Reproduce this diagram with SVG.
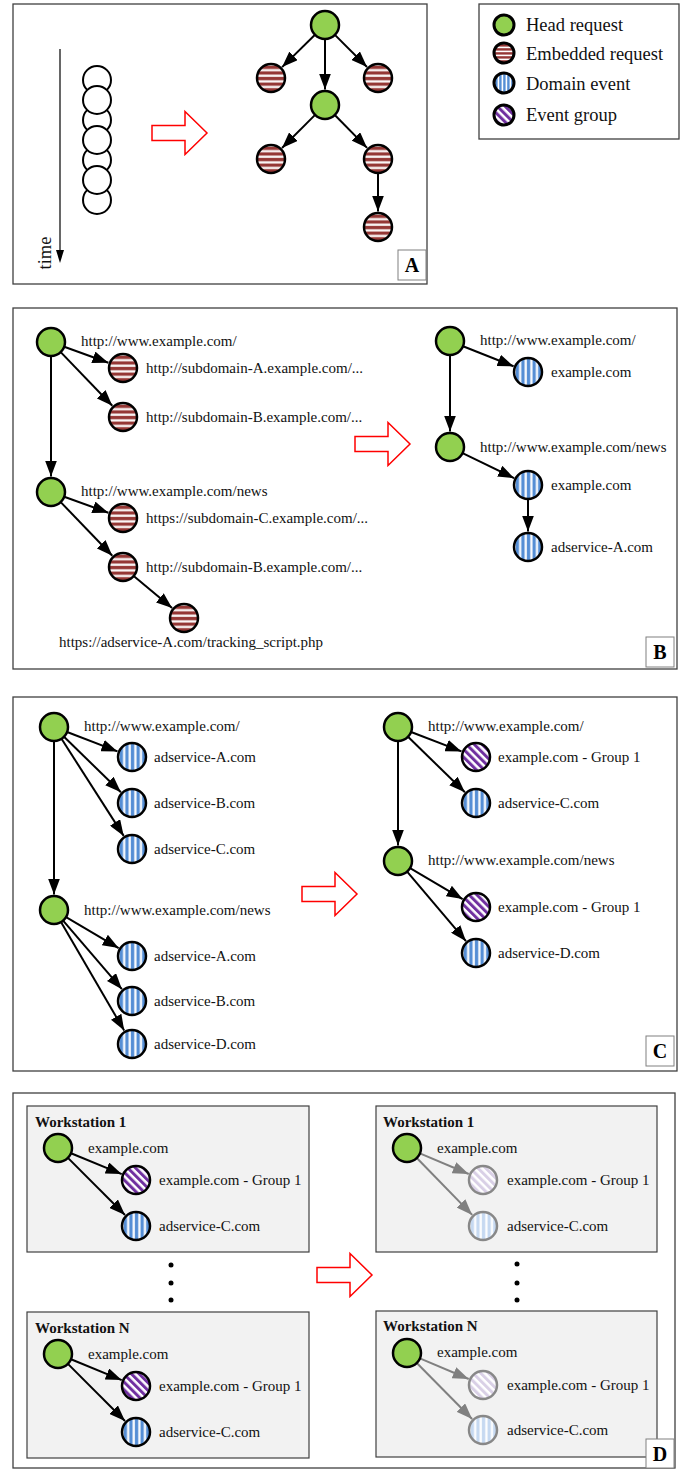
<svg xmlns="http://www.w3.org/2000/svg" width="689" height="1472" viewBox="0 0 689 1472">
<style>
.panel{fill:#fff;stroke:#404040;stroke-width:1.3}
.tag{fill:#fff;stroke:#808080;stroke-width:1}
.tagt{font-family:"Liberation Serif",serif;font-size:20px;font-weight:bold;text-anchor:middle;fill:#000}
.lbl{font-family:"Liberation Serif",serif;font-size:15px;fill:#111}
.leg{font-family:"Liberation Serif",serif;font-size:18.5px;fill:#111}
.ws{fill:#f2f2f2;stroke:#404040;stroke-width:1.2}
.wst{font-family:"Liberation Serif",serif;font-size:15px;font-weight:bold;fill:#111}
.n{stroke:#000;stroke-width:2.5}
.f{stroke:#888;stroke-width:2.5}
.head{fill:#92d050}
.emb{fill:url(#pEmb)}
.dom{fill:url(#pDom)}
.grp{fill:url(#pGrp)}
.fdom{fill:url(#pDomF)}
.fgrp{fill:url(#pGrpF)}
.plain{fill:#fff;stroke:#000;stroke-width:2}
.e{stroke:#000;stroke-width:2;fill:none;marker-end:url(#ah)}
.eg{stroke:#808080;stroke-width:2;fill:none;marker-end:url(#ahg)}
.red{fill:#fff;stroke:#ff0000;stroke-width:1.5}
</style>
<defs>
<pattern id="pEmb" patternUnits="objectBoundingBox" width="1" height="0.2" patternContentUnits="objectBoundingBox">
<rect width="1" height="0.2" fill="#fff"/><rect y="0.06" width="1" height="0.12" fill="#953735"/>
</pattern>
<pattern id="pDom" patternUnits="objectBoundingBox" width="0.2" height="1" patternContentUnits="objectBoundingBox">
<rect width="0.2" height="1" fill="#fff"/><rect x="0.06" width="0.12" height="1" fill="#558ed5"/>
</pattern>
<pattern id="pDomF" patternUnits="objectBoundingBox" width="0.2" height="1" patternContentUnits="objectBoundingBox">
<rect width="0.2" height="1" fill="#fff"/><rect x="0.06" width="0.12" height="1" fill="#c6d9f1"/>
</pattern>
<pattern id="pGrp" patternUnits="userSpaceOnUse" width="5.5" height="5.5" patternTransform="rotate(-45)">
<rect width="5.5" height="5.5" fill="#fff"/><rect width="3" height="5.5" fill="#7030a0"/>
</pattern>
<pattern id="pGrpF" patternUnits="userSpaceOnUse" width="5.5" height="5.5" patternTransform="rotate(-45)">
<rect width="5.5" height="5.5" fill="#fff"/><rect width="3" height="5.5" fill="#d9d0e6"/>
</pattern>
<marker id="ah" markerUnits="userSpaceOnUse" markerWidth="16" markerHeight="12" viewBox="0 0 16 12" refX="16" refY="6" orient="auto">
<path d="M0,0 L16,6 L0,12 Z" fill="#000"/>
</marker>
<marker id="ahg" markerUnits="userSpaceOnUse" markerWidth="16" markerHeight="12" viewBox="0 0 16 12" refX="16" refY="6" orient="auto">
<path d="M0,0 L16,6 L0,12 Z" fill="#808080"/>
</marker>
<path id="bigArrow" d="M-55,-7.5 L-22,-7.5 L-22,-21.5 L0,0 L-22,21.5 L-22,7.5 L-55,7.5 Z"/>
</defs>

<!-- Panel frames -->
<g id="panels">
<rect class="panel" x="13" y="4" width="414" height="280"/>
<rect class="panel" x="13" y="308" width="664" height="361"/>
<rect class="panel" x="13" y="697" width="664" height="374"/>
<rect class="panel" x="13" y="1093" width="662" height="375"/>
<rect class="ws" x="27" y="1106" width="282" height="146"/>
<rect class="ws" x="27" y="1312" width="282" height="146"/>
<rect class="ws" x="376" y="1106" width="281" height="146"/>
<rect class="ws" x="376" y="1311" width="281" height="146"/>
<text class="wst" x="35" y="1127">Workstation 1</text>
<text class="wst" x="35" y="1333">Workstation N</text>
<text class="wst" x="383" y="1127">Workstation 1</text>
<text class="wst" x="383" y="1331">Workstation N</text>
</g>

<!-- Legend -->
<g id="legend">
<rect class="panel" x="479" y="4" width="200" height="135"/>
<circle class="head" cx="504" cy="25" r="10" stroke="#000" stroke-width="3"/>
<text class="leg" x="526" y="31">Head request</text>
<circle class="emb" cx="504" cy="53" r="10" stroke="#000" stroke-width="3"/>
<text class="leg" x="526" y="60">Embedded request</text>
<circle class="dom" cx="504" cy="83" r="10" stroke="#000" stroke-width="3"/>
<text class="leg" x="526" y="90">Domain event</text>
<circle class="grp" cx="504" cy="115" r="10" stroke="#000" stroke-width="3"/>
<text class="leg" x="526" y="121">Event group</text>
</g>

<!-- Big red arrows -->
<g id="transform-arrows">
<use href="#bigArrow" class="red" transform="translate(207,133)"/>
<use href="#bigArrow" class="red" transform="translate(410,444)"/>
<use href="#bigArrow" class="red" transform="translate(357,894)"/>
<use href="#bigArrow" class="red" transform="translate(372,1275)"/>
</g>

<!-- Panel A: time line and request circles -->
<g id="timeline">
<line x1="60" y1="49" x2="60" y2="251" stroke="#000" stroke-width="1.2"/>
<polygon points="56,250 64,250 60,263" fill="#000"/>
<text class="leg" transform="translate(51,253) rotate(-90)" text-anchor="middle">time</text>
<circle class="plain" cx="97" cy="80" r="14"/>
<circle class="plain" cx="97" cy="120" r="14"/>
<circle class="plain" cx="97" cy="160" r="14"/>
<circle class="plain" cx="97" cy="200" r="14"/>
<circle class="plain" cx="97" cy="100" r="14"/>
<circle class="plain" cx="97" cy="140" r="14"/>
<circle class="plain" cx="97" cy="180" r="14"/>
</g>

<!-- Connectors -->
<g id="connectors">
<!-- A -->
<line class="e" x1="315" y1="34.8" x2="282.1" y2="67.1"/>
<line class="e" x1="334.9" y1="34.9" x2="367" y2="67"/>
<line class="e" x1="325" y1="39" x2="325" y2="89.5"/>
<line class="e" x1="315.1" y1="114.9" x2="282" y2="148"/>
<line class="e" x1="334.8" y1="115" x2="367.1" y2="147.9"/>
<line class="e" x1="378" y1="173" x2="378" y2="211.5"/>
<!-- B left -->
<line class="e" x1="64.2" y1="346.8" x2="108.4" y2="362.7"/>
<line class="e" x1="60.7" y1="352.1" x2="112.3" y2="405.8"/>
<line class="e" x1="51" y1="356" x2="51" y2="476.5"/>
<line class="e" x1="64.2" y1="496.8" x2="108.4" y2="512.7"/>
<line class="e" x1="60.7" y1="502.1" x2="112.3" y2="555.8"/>
<line class="e" x1="133.7" y1="576" x2="172.1" y2="608.1"/>
<!-- B right -->
<line class="e" x1="463" y1="346.2" x2="513.6" y2="366.3"/>
<line class="e" x1="450" y1="355" x2="450" y2="431.5"/>
<line class="e" x1="462.6" y1="453.1" x2="514.1" y2="478.2"/>
<line class="e" x1="528" y1="499" x2="528" y2="531.5"/>
<!-- C left -->
<line class="e" x1="67.1" y1="732" x2="117.5" y2="751.4"/>
<line class="e" x1="64" y1="736.8" x2="120.9" y2="792.2"/>
<line class="e" x1="61.5" y1="738.8" x2="123.7" y2="835.9"/>
<line class="e" x1="54" y1="741" x2="54" y2="894.5"/>
<line class="e" x1="66.1" y1="917.1" x2="118.6" y2="948.1"/>
<line class="e" x1="63.1" y1="920.6" x2="121.9" y2="989.2"/>
<line class="e" x1="61" y1="922.1" x2="124.2" y2="1030.6"/>
<!-- C right -->
<line class="e" x1="411.1" y1="732" x2="461.5" y2="751.4"/>
<line class="e" x1="408" y1="736.8" x2="464.9" y2="792.2"/>
<line class="e" x1="398" y1="741" x2="398" y2="845.5"/>
<line class="e" x1="410.1" y1="868.1" x2="462.6" y2="899.1"/>
<line class="e" x1="407.1" y1="871.7" x2="466" y2="941.2"/>
<!-- D left -->
<line class="e" x1="71" y1="1153.3" x2="121.7" y2="1174.1"/>
<line class="e" x1="67.9" y1="1157.9" x2="125" y2="1215"/>
<line class="e" x1="71" y1="1359.3" x2="121.7" y2="1380.1"/>
<line class="e" x1="67.9" y1="1363.9" x2="125" y2="1421"/>
<!-- D right (faded) -->
<line class="eg" x1="419.9" y1="1153.4" x2="468.7" y2="1174"/>
<line class="eg" x1="416.8" y1="1158" x2="472.2" y2="1214.9"/>
<line class="eg" x1="419.9" y1="1358.4" x2="468.7" y2="1379"/>
<line class="eg" x1="416.8" y1="1363" x2="472.1" y2="1419"/>
</g>

<!-- Panel A nodes -->
<g id="A-head1"><circle class="n head" cx="325" cy="25" r="14"/></g>
<g id="A-emb1"><circle class="n emb" cx="271" cy="78" r="14"/></g>
<g id="A-emb2"><circle class="n emb" cx="378" cy="78" r="14"/></g>
<g id="A-head2"><circle class="n head" cx="325" cy="105" r="14"/></g>
<g id="A-emb3"><circle class="n emb" cx="271" cy="159" r="14"/></g>
<g id="A-emb4"><circle class="n emb" cx="378" cy="159" r="14"/></g>
<g id="A-emb5"><circle class="n emb" cx="378" cy="227" r="14"/></g>

<!-- Panel B left -->
<g id="B-head1"><circle class="n head" cx="51" cy="342" r="14"/><text class="lbl" x="81" y="346">http://www.example.com/</text></g>
<g id="B-emb1"><circle class="n emb" cx="123" cy="368" r="14"/><text class="lbl" x="146" y="373">http://subdomain-A.example.com/...</text></g>
<g id="B-emb2"><circle class="n emb" cx="123" cy="417" r="14"/><text class="lbl" x="146" y="422">http://subdomain-B.example.com/...</text></g>
<g id="B-head2"><circle class="n head" cx="51" cy="492" r="14"/><text class="lbl" x="81" y="496">http://www.example.com/news</text></g>
<g id="B-emb3"><circle class="n emb" cx="123" cy="518" r="14"/><text class="lbl" x="146" y="523">https://subdomain-C.example.com/...</text></g>
<g id="B-emb4"><circle class="n emb" cx="123" cy="567" r="14"/><text class="lbl" x="146" y="572">http://subdomain-B.example.com/...</text></g>
<g id="B-emb5"><circle class="n emb" cx="184" cy="618" r="14"/><text class="lbl" x="59" y="647">https://adservice-A.com/tracking_script.php</text></g>

<!-- Panel B right -->
<g id="B2-head1"><circle class="n head" cx="450" cy="341" r="14"/><text class="lbl" x="480" y="345">http://www.example.com/</text></g>
<g id="B2-dom1"><circle class="n dom" cx="528" cy="372" r="14"/><text class="lbl" x="551" y="377">example.com</text></g>
<g id="B2-head2"><circle class="n head" cx="450" cy="447" r="14"/><text class="lbl" x="480" y="452">http://www.example.com/news</text></g>
<g id="B2-dom2"><circle class="n dom" cx="528" cy="485" r="14"/><text class="lbl" x="551" y="490">example.com</text></g>
<g id="B2-dom3"><circle class="n dom" cx="528" cy="547" r="14"/><text class="lbl" x="551" y="552">adservice-A.com</text></g>

<!-- Panel C left -->
<g id="C-head1"><circle class="n head" cx="54" cy="727" r="14"/><text class="lbl" x="84" y="731">http://www.example.com/</text></g>
<g id="C-dom1"><circle class="n dom" cx="132" cy="757" r="14"/><text class="lbl" x="154" y="762">adservice-A.com</text></g>
<g id="C-dom2"><circle class="n dom" cx="132" cy="803" r="14"/><text class="lbl" x="154" y="808">adservice-B.com</text></g>
<g id="C-dom3"><circle class="n dom" cx="132" cy="849" r="14"/><text class="lbl" x="154" y="854">adservice-C.com</text></g>
<g id="C-head2"><circle class="n head" cx="54" cy="910" r="14"/><text class="lbl" x="84" y="915">http://www.example.com/news</text></g>
<g id="C-dom4"><circle class="n dom" cx="132" cy="956" r="14"/><text class="lbl" x="154" y="961">adservice-A.com</text></g>
<g id="C-dom5"><circle class="n dom" cx="132" cy="1001" r="14"/><text class="lbl" x="154" y="1006">adservice-B.com</text></g>
<g id="C-dom6"><circle class="n dom" cx="132" cy="1044" r="14"/><text class="lbl" x="154" y="1049">adservice-D.com</text></g>

<!-- Panel C right -->
<g id="C2-head1"><circle class="n head" cx="398" cy="727" r="14"/><text class="lbl" x="428" y="731">http://www.example.com/</text></g>
<g id="C2-grp1"><circle class="n grp" cx="476" cy="757" r="14"/><text class="lbl" x="498" y="762">example.com - Group 1</text></g>
<g id="C2-dom1"><circle class="n dom" cx="476" cy="803" r="14"/><text class="lbl" x="498" y="808">adservice-C.com</text></g>
<g id="C2-head2"><circle class="n head" cx="398" cy="861" r="14"/><text class="lbl" x="428" y="865">http://www.example.com/news</text></g>
<g id="C2-grp2"><circle class="n grp" cx="476" cy="907" r="14"/><text class="lbl" x="498" y="912">example.com - Group 1</text></g>
<g id="C2-dom2"><circle class="n dom" cx="476" cy="953" r="14"/><text class="lbl" x="498" y="958">adservice-D.com</text></g>

<!-- Panel D left -->
<g id="D-ws1-head"><circle class="n head" cx="58" cy="1148" r="14"/><text class="lbl" x="88" y="1153">example.com</text></g>
<g id="D-ws1-grp"><circle class="n grp" cx="136" cy="1180" r="14"/><text class="lbl" x="159" y="1185">example.com - Group 1</text></g>
<g id="D-ws1-dom"><circle class="n dom" cx="136" cy="1226" r="14"/><text class="lbl" x="159" y="1231">adservice-C.com</text></g>
<g id="D-wsN-head"><circle class="n head" cx="58" cy="1354" r="14"/><text class="lbl" x="88" y="1359">example.com</text></g>
<g id="D-wsN-grp"><circle class="n grp" cx="136" cy="1386" r="14"/><text class="lbl" x="159" y="1391">example.com - Group 1</text></g>
<g id="D-wsN-dom"><circle class="n dom" cx="136" cy="1432" r="14"/><text class="lbl" x="159" y="1437">adservice-C.com</text></g>
<g id="D-dots-left" fill="#000"><circle cx="171" cy="1265" r="2.5"/><circle cx="171" cy="1283" r="2.5"/><circle cx="171" cy="1300" r="2.5"/></g>

<!-- Panel D right -->
<g id="D2-ws1-head"><circle class="n head" cx="407" cy="1148" r="14"/><text class="lbl" x="437" y="1153">example.com</text></g>
<g id="D2-ws1-grp"><circle class="f fgrp" cx="483" cy="1180" r="14"/><text class="lbl" x="507" y="1185">example.com - Group 1</text></g>
<g id="D2-ws1-dom"><circle class="f fdom" cx="483" cy="1226" r="14"/><text class="lbl" x="507" y="1231">adservice-C.com</text></g>
<g id="D2-wsN-head"><circle class="n head" cx="407" cy="1353" r="14"/><text class="lbl" x="437" y="1357">example.com</text></g>
<g id="D2-wsN-grp"><circle class="f fgrp" cx="483" cy="1385" r="14"/><text class="lbl" x="507" y="1390">example.com - Group 1</text></g>
<g id="D2-wsN-dom"><circle class="f fdom" cx="483" cy="1430" r="14"/><text class="lbl" x="507" y="1435">adservice-C.com</text></g>
<g id="D-dots-right" fill="#000"><circle cx="517" cy="1264" r="2.5"/><circle cx="517" cy="1283" r="2.5"/><circle cx="517" cy="1300" r="2.5"/></g>

<!-- Panel tags -->
<g id="tags">
<rect class="tag" x="398" y="250" width="28" height="30"/><text class="tagt" x="412" y="272">A</text>
<rect class="tag" x="646" y="637" width="28" height="30"/><text class="tagt" x="660" y="659">B</text>
<rect class="tag" x="646" y="1036" width="28" height="30"/><text class="tagt" x="660" y="1058">C</text>
<rect class="tag" x="646" y="1439" width="28" height="29"/><text class="tagt" x="660" y="1461">D</text>
</g>
</svg>
